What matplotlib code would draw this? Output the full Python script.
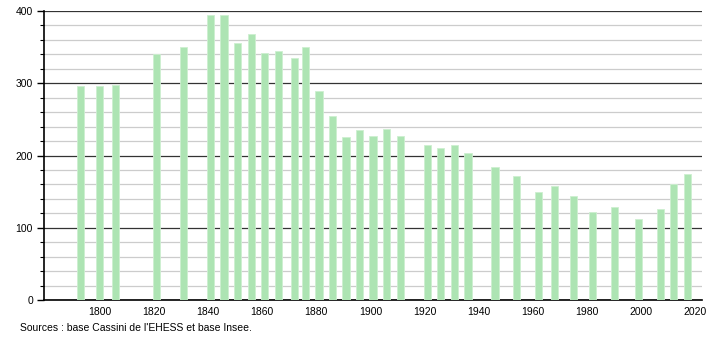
import matplotlib
matplotlib.use("Agg")
import matplotlib.pyplot as plt
from matplotlib.ticker import MultipleLocator

# population by census year
years = [1793, 1800, 1806, 1821, 1831, 1841, 1846, 1851, 1856, 1861, 1866,
         1872, 1876, 1881, 1886, 1891, 1896, 1901, 1906, 1911, 1921, 1926,
         1931, 1936, 1946, 1954, 1962, 1968, 1975, 1982, 1990, 1999, 2007,
         2012, 2017]
population = [296, 296, 298, 341, 350, 394, 394, 356, 368, 342, 345,
              335, 350, 289, 255, 226, 235, 227, 237, 227, 214, 211,
              214, 203, 184, 171, 150, 158, 144, 122, 129, 112, 126,
              160, 175]

y_major = [0, 100, 200, 300, 400]
x_ticks = [1800, 1820, 1840, 1860, 1880, 1900, 1920, 1940, 1960, 1980, 2000, 2020]
source = "Sources : base Cassini de l'EHESS et base Insee."

plt.rcParams['font.family'] = ['Liberation Sans', 'DejaVu Sans']

fig = plt.figure(figsize=(7.1, 3.4), dpi=100)
ax = fig.add_axes([0.062, 0.1176, 0.927, 0.85])

ax.bar(years, population, width=2.7, color='#ade4b3', edgecolor='#cdeFd0',
       linewidth=0.6, zorder=3)

ax.set_xlim(1779.5, 2022.5)
ax.set_ylim(0, 400)
ax.set_xticks(x_ticks)
ax.set_yticks(y_major)
ax.yaxis.set_minor_locator(MultipleLocator(20))

# grid: light minor lines, dark major lines
ax.grid(axis='y', which='minor', color='#cccccc', linewidth=0.9, zorder=1)
ax.grid(axis='y', which='major', color='#333333', linewidth=0.9, zorder=2)

for s in ['top', 'right']:
    ax.spines[s].set_visible(False)
ax.spines['left'].set_color('black')
ax.spines['bottom'].set_color('black')
ax.spines['left'].set_linewidth(1.2)
ax.spines['bottom'].set_linewidth(1.2)

ax.tick_params(axis='x', length=0, labelsize=7.5, pad=5)
ax.tick_params(axis='y', which='major', length=5, width=1, labelsize=7.5, pad=3)
ax.tick_params(axis='y', which='minor', length=3, width=0.8)

fig.text(20 / 710, 1 - 328 / 340, source, fontsize=7.5, va='center', ha='left')

fig.savefig("out.png", dpi=100)
